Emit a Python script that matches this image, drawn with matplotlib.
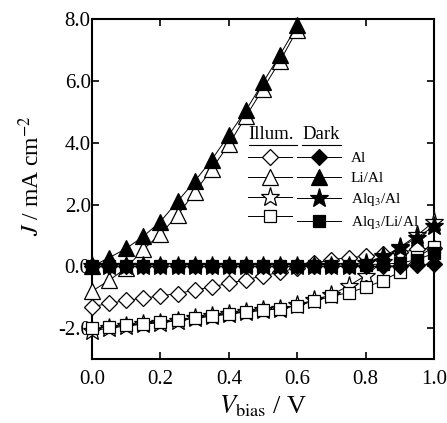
import matplotlib
matplotlib.use('Agg')
import matplotlib.pyplot as plt
import numpy as np

plt.rcParams['font.family'] = ['Liberation Serif', 'DejaVu Serif']
plt.rcParams['mathtext.fontset'] = 'stix'

# bias voltage (V)
v = np.round(np.arange(0, 1.0001, 0.05), 2)
v_li = v[:13]  # Li/Al runs off the top of the axes after 0.6 V

# current density (mA cm^-2), illuminated
al_ill = [-1.30, -1.20, -1.10, -1.03, -0.95, -0.88, -0.77, -0.66, -0.55, -0.43, -0.31,
          -0.18, -0.05, 0.10, 0.22, 0.28, 0.33, 0.40, 0.45, 0.55, 0.60]
li_ill = [-0.80, -0.45, -0.05, 0.55, 1.05, 1.65, 2.40, 3.15, 3.95, 4.85, 5.75, 6.65, 7.65]
alq_ill = [-2.08, -2.00, -1.93, -1.87, -1.82, -1.76, -1.68, -1.61, -1.54, -1.47, -1.42,
           -1.37, -1.25, -1.08, -0.92, -0.63, -0.30, 0.15, 0.62, 1.00, 1.45]
alqli_ill = [-2.00, -1.96, -1.91, -1.85, -1.80, -1.74, -1.67, -1.60, -1.54, -1.47, -1.42,
             -1.37, -1.27, -1.12, -0.97, -0.85, -0.68, -0.46, -0.18, 0.30, 0.62]

# current density (mA cm^-2), dark
al_dark = [0.0, 0.0, 0.0, 0.0, 0.0, 0.0, 0.0, 0.0, 0.0, 0.0, 0.0,
           0.0, 0.0, 0.0, 0.0, 0.0, 0.0, 0.0, 0.02, 0.05, 0.08]
li_dark = [0.00, 0.28, 0.58, 0.97, 1.45, 2.10, 2.75, 3.45, 4.25, 5.05, 5.95, 6.85, 7.80]
alq_dark = [0.0, 0.0, 0.0, 0.0, 0.0, 0.0, 0.0, 0.0, 0.0, 0.0, 0.0,
            0.0, 0.0, 0.0, 0.0, 0.02, 0.12, 0.32, 0.60, 0.93, 1.30]
alqli_dark = [0.0, 0.0, 0.0, 0.0, 0.0, 0.0, 0.0, 0.0, 0.0, 0.0, 0.0,
              0.0, 0.0, 0.0, 0.0, 0.0, 0.05, 0.08, 0.10, 0.22, 0.42]

names = ['Al', 'Li/Al', 'Alq$_3$/Al', 'Alq$_3$/Li/Al']
markers = ['D', '^', '*', 's']
sizes = [8.5, 12, 14, 9]

fig = plt.figure(figsize=(4.47, 4.23), dpi=100)
ax = fig.add_axes([0.206, 0.151, 0.765, 0.804])

ill = [(v, al_ill), (v_li, li_ill), (v, alq_ill), (v, alqli_ill)]
dark = [(v, al_dark), (v_li, li_dark), (v, alq_dark), (v, alqli_dark)]

h_ill = []
h_dark = []
for (x, y), m, s in zip(ill, markers, sizes):
    l, = ax.plot(x, y, '-', color='black', lw=0.7, marker=m, ms=s,
                 mfc='white', mec='black', mew=0.9, clip_on=False, zorder=3)
    h_ill.append(l)
for (x, y), m, s in zip(dark, markers, sizes):
    l, = ax.plot(x, y, '-', color='black', lw=0.7, marker=m, ms=s,
                 mfc='black', mec='black', mew=0.9, clip_on=False, zorder=4)
    h_dark.append(l)

ax.set_xlim(0, 1.0)
ax.set_ylim(-3, 8)
ax.set_xticks(np.arange(0, 1.01, 0.2))
ax.set_yticks(np.arange(-2, 8.1, 2))
ax.xaxis.set_major_formatter(plt.FormatStrFormatter('%.1f'))
ax.yaxis.set_major_formatter(plt.FormatStrFormatter('%.1f'))
ax.tick_params(direction='in', top=True, right=True, length=5, width=1.2, labelsize=15)
ax.tick_params(axis='x', pad=8)
ax.tick_params(axis='y', pad=1)
for sp in ax.spines.values():
    sp.set_linewidth(1.5)

ax.set_xlabel('$V_{\\rm bias}$ / V', fontsize=19, labelpad=3)
ax.set_ylabel('$J$ / mA cm$^{-2}$', fontsize=17)
ax.yaxis.set_label_coords(-0.14, 0.54)

# legend: open (illum.) markers in first column, filled (dark) in second
leg = ax.legend(h_ill + h_dark, [''] * 4 + names, ncol=2, frameon=False,
                loc='upper left', bbox_to_anchor=(0.455, 0.61), fontsize=11,
                handlelength=2.9, handletextpad=0.65, columnspacing=-0.35,
                labelspacing=0.4, borderpad=0, borderaxespad=0)

ax.text(0.458, 0.635, 'Illum.', transform=ax.transAxes, fontsize=13.5, va='bottom')
ax.text(0.615, 0.635, 'Dark', transform=ax.transAxes, fontsize=13.5, va='bottom')
ax.plot([0.458, 0.598], [0.63, 0.63], transform=ax.transAxes, color='black', lw=0.8, clip_on=False)
ax.plot([0.615, 0.728], [0.63, 0.63], transform=ax.transAxes, color='black', lw=0.8, clip_on=False)

plt.savefig('out.png', dpi=100)
